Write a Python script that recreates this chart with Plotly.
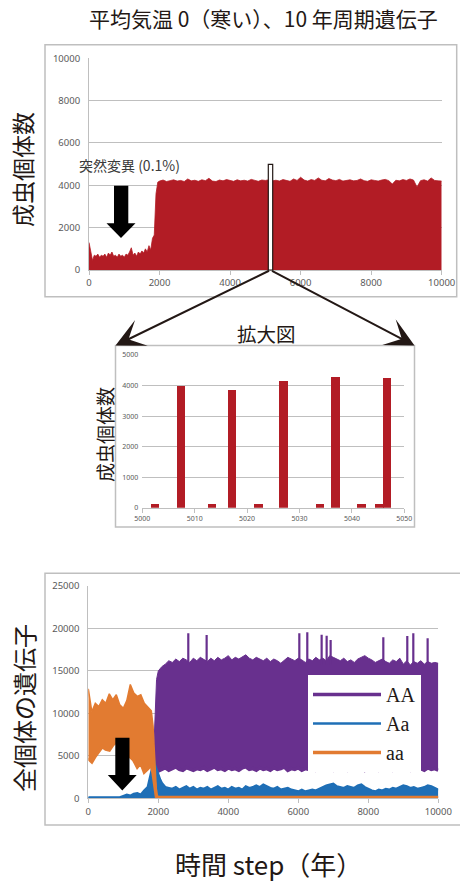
import plotly.graph_objects as go

W, H = 460, 883


def PX(x):
    return x / W


def PY(y):
    return 1 - y / H


# ---------------- data ----------------
# top chart: adult population (upper envelope of the dense 10-year oscillation)
TOP_STEP = list(range(0, 2000, 50)) + list(range(2000, 10001, 100))
TOP_ADULTS = [
    1300, 800, 450, 700, 650, 750, 600, 700, 650, 750,
    600, 800, 700, 850, 650, 700, 600, 750, 650, 700,
    600, 750, 700, 850, 1050, 700, 800, 650, 850, 750,
    900, 800, 1000, 850, 1150, 950, 1500, 1650, 3600, 4150,
    4200,
    4250, 4180, 4220, 4260, 4200, 4230, 4180, 4300, 4210, 4240,
    4190, 4260, 4220, 4330, 4200, 4180, 4250, 4210, 4270, 4230,
    4190, 4260, 4210, 4240, 4200, 4280, 4220, 4190, 4250, 4230,
    4260, 4210, 4240, 4200, 4270, 4220, 4190, 4300, 4230, 4380,
    4250, 4200, 4270, 4230, 4350, 4240, 4210, 4320, 4250, 4220,
    4280, 4200, 4240, 4260, 4210, 4230, 4300, 4220, 4190, 4260,
    4230, 4200, 4250, 4280, 4220, 4060, 4240, 4210, 4270, 4230,
    4300, 4250, 3920, 4220, 4260, 4200, 4350, 4230, 4210, 4200,
]

# zoomed view 5000-5050
ZOOM_STEP = [5002.5, 5007.5, 5013.3, 5017.2, 5022.2, 5027.0, 5034.0, 5036.9, 5041.9, 5045.3, 5046.7]
ZOOM_ADULTS = [110, 3990, 110, 3870, 110, 4140, 110, 4290, 110, 110, 4240]

# bottom chart: genotype counts (envelopes)
AA_STEP = [1850, 1900, 1950] + list(range(2000, 10001, 100))
AA_HIGH = [
    3500, 9000, 14000,
    15000,
    15500, 15800, 16200, 16000, 16400, 16100, 16500, 16300, 16000, 16500,
    16200, 16600, 16300, 16100, 16500, 16200, 16600, 16300, 16500, 16800,
    16300, 16600, 16400, 16700, 16900, 16500, 16300, 16600, 16400, 16200,
    16500, 16100, 16400, 16200, 15900, 16300, 16600, 16400, 16200, 16500,
    16300, 16000, 16400, 16200, 16600, 16300, 16500, 16200, 16800, 16600,
    16400, 16200, 16500, 16100, 16300, 16000, 16400, 16600, 16800, 16500,
    16300, 16000, 16200, 16400, 16100, 15900, 16300, 16100, 16500, 15800,
    16200, 15700, 16100, 15900, 16200, 15800, 16100, 15900, 16000, 15900,
]
AA_LOW = [
    3500, 3600, 3300,
    3200,
    3400, 3600, 3300, 3500, 3700, 3400, 3300, 3600, 3500, 3300,
    3500, 3400, 3600, 3300, 3500, 3700, 3400, 3500, 3300, 3600,
    3400, 3500, 3300, 3600, 3700, 3400, 3500, 3300, 3600, 3400,
    3500, 3300, 3600, 3400, 3500, 3700, 3300, 3500, 3400, 3600,
    3300, 3500, 3400, 3600, 3300, 3500, 3700, 3400, 3500, 3300,
    3600, 3400, 3500, 3300, 3600, 3500, 3400, 3700, 3300, 3500,
    3400, 3600, 3300, 3500, 3400, 3600, 3300, 3500, 3700, 3400,
    3500, 3300, 3600, 3400, 3500, 3300, 3600, 3400, 3500, 3300,
]
AA_SPIKE_STEP = [2857, 3381, 6029, 6257, 6667, 6810, 6924, 8429, 9114, 9286, 9695]
AA_SPIKE_PEAK = [19430, 19230, 19430, 19540, 19270, 19150, 18640, 18960, 19110, 19430, 18840]

Aa_STEP = list(range(0, 1701, 100)) + [1750, 1800, 1850, 1880, 1900, 1950, 2000, 2050] + list(range(2100, 10001, 100))
Aa_HIGH = [
    100, 100, 100, 100, 100, 100, 100, 100, 100, 100,
    250, 400, 300, 500, 600, 400, 900, 1300,
    2200, 3200, 4200, 4500, 4000, 3300, 2900, 2200,
    1800, 1300, 1200, 1100, 1300, 1000, 1200, 1400, 1100, 1300,
    1000, 1200, 1100, 1300, 1000, 1200, 1400, 1100, 1200, 1000,
    1300, 1100, 1200, 1000, 1400, 1200, 1300, 1500, 1300, 1600,
    1400, 1200, 1100, 1300, 1000, 1100, 1200, 1000, 900, 800,
    1000, 800, 900, 1000, 900, 1100, 1300, 1500, 1600, 1700,
    1400, 1300, 1200, 1400, 1300, 1200, 1500, 1600, 1300, 1100,
    900, 800, 1000, 900, 1100, 1000, 1200, 1100, 1300, 1500,
    1400, 1200, 1300, 1100, 1200, 1300, 1500, 1400, 1200, 1000,
]

aa_STEP = list(range(0, 1801, 100)) + [1850, 1900, 1950, 2000, 10000]
aa_HIGH = [
    12900, 10200, 11200, 10800, 11600, 11200, 12300, 11600, 12200, 11000,
    10600, 11500, 13400, 12400, 12000, 12200, 11200, 10800, 10300,
    8500, 3500, 500, 200, 200,
]
aa_LOW = [
    4700, 4300, 5000, 5500, 6100, 5800, 5700, 6300, 6700, 6000,
    5500, 6100, 4900, 4500, 3700, 4200, 3100, 3500, 4000,
    3000, 1500, 100, 0, 0,
]

TOP_TICKS = [0, 2000, 4000, 6000, 8000, 10000]
ZOOM_XTICKS = [5000, 5010, 5020, 5030, 5040, 5050]
ZOOM_YTICKS = [0, 1000, 2000, 3000, 4000, 5000]
GENE_YTICKS = [0, 5000, 10000, 15000, 20000, 25000]

# ---------------- style ----------------
RED = "#B21C25"
PURPLE = "#68308E"
BLUE = "#1F6FB6"
ORANGE = "#E27B31"
GRID = "#BFBFBF"
TICKC = "#595959"
INK = "#231815"
JP = "Noto Sans CJK JP"
NUM = "Noto Sans"

fig = go.Figure()

# top chart
fig.add_trace(go.Scatter(x=TOP_STEP, y=TOP_ADULTS, mode="lines", fill="tozeroy",
                         line=dict(color=RED, width=0.8), fillcolor=RED,
                         showlegend=False, xaxis="x", yaxis="y", hoverinfo="skip"))

# zoom chart
fig.add_trace(go.Bar(x=ZOOM_STEP, y=ZOOM_ADULTS, width=1.6, marker=dict(color=RED, line=dict(width=0)),
                     showlegend=False, xaxis="x2", yaxis="y2"))

# bottom chart: AA
fig.add_trace(go.Scatter(x=AA_STEP, y=AA_LOW, mode="lines", name="AA", legendrank=1,
                         line=dict(color=PURPLE, width=3.5), xaxis="x3", yaxis="y3"))
fig.add_trace(go.Scatter(x=AA_STEP, y=AA_HIGH, mode="lines", fill="tonexty", fillcolor=PURPLE,
                         line=dict(color=PURPLE, width=1), showlegend=False, xaxis="x3", yaxis="y3"))
spx, spy = [], []
for s, p in zip(AA_SPIKE_STEP, AA_SPIKE_PEAK):
    spx += [s, s, None]
    spy += [15800, p, None]
fig.add_trace(go.Scatter(x=spx, y=spy, mode="lines", line=dict(color=PURPLE, width=2.2),
                         showlegend=False, xaxis="x3", yaxis="y3"))
# Aa
fig.add_trace(go.Scatter(x=Aa_STEP, y=Aa_HIGH, mode="lines", name="Aa", legendrank=2,
                         line=dict(color=BLUE, width=2.5), xaxis="x3", yaxis="y3"))
fig.add_trace(go.Scatter(x=Aa_STEP, y=Aa_HIGH, mode="lines", fill="tozeroy", fillcolor=BLUE,
                         line=dict(color=BLUE, width=1), showlegend=False, xaxis="x3", yaxis="y3"))
# aa
fig.add_trace(go.Scatter(x=aa_STEP, y=aa_LOW, mode="lines", name="aa", legendrank=3,
                         line=dict(color=ORANGE, width=3.5), xaxis="x3", yaxis="y3"))
fig.add_trace(go.Scatter(x=aa_STEP, y=aa_HIGH, mode="lines", fill="tonexty", fillcolor=ORANGE,
                         line=dict(color=ORANGE, width=1.5), showlegend=False, xaxis="x3", yaxis="y3"))

tickfont = dict(family=NUM, size=9.5, color=TICKC)
small_tickfont = dict(family=NUM, size=7, color=TICKC)

common_x = dict(showgrid=False, showline=True, linecolor=GRID, linewidth=1, ticks="outside",
                ticklen=4, tickcolor=GRID, tickformat="d", zeroline=False, fixedrange=True,
                automargin=False)
common_y = dict(showgrid=True, gridcolor=GRID, gridwidth=1, showline=True, linecolor=GRID,
                linewidth=1, ticks="", tickformat="d", zeroline=False, ticklabelstandoff=6,
                fixedrange=True, automargin=False)

fig.update_layout(
    width=W, height=H, margin=dict(l=0, r=0, t=0, b=0, pad=0, autoexpand=False),
    paper_bgcolor="white", plot_bgcolor="rgba(0,0,0,0)",
    bargap=0,
    xaxis=dict(domain=[PX(89), PX(441.7)], range=[0, 10000], tickvals=TOP_TICKS,
               tickfont=tickfont, anchor="y", **common_x),
    yaxis=dict(domain=[PY(270), PY(58.3)], range=[0, 10000], tickvals=TOP_TICKS,
               tickfont=tickfont, anchor="x", **common_y),
    xaxis2=dict(domain=[PX(142.3), PX(404.3)], range=[5000, 5050], tickvals=ZOOM_XTICKS,
                tickfont=small_tickfont, anchor="y2", **common_x),
    yaxis2=dict(domain=[PY(507.7), PY(355)], range=[0, 5000], tickvals=ZOOM_YTICKS,
                tickfont=small_tickfont, anchor="x2",
                **{**common_y, "showline": False, "ticklabelstandoff": 3}),
    xaxis3=dict(domain=[PX(88.3), PX(438.3)], range=[0, 10000], tickvals=TOP_TICKS,
                tickfont=tickfont, anchor="y3", **common_x),
    yaxis3=dict(domain=[PY(798.3), PY(586)], range=[0, 25000], tickvals=GENE_YTICKS,
                tickfont=tickfont, anchor="x3", **common_y),
    legend=dict(x=PX(308), y=PY(675), xanchor="left", yanchor="top", traceorder="normal",
                bgcolor="white", borderwidth=0, itemwidth=68,
                font=dict(family="Liberation Serif", size=20, color=INK),
                tracegroupgap=0),
)


def path(points):
    s = "M " + " L ".join(f"{PX(x):.5f},{PY(y):.5f}" for x, y in points) + " Z"
    return s


shapes = [
    # panel frames
    dict(type="rect", xref="paper", yref="paper", x0=PX(45), x1=PX(456.7), y0=PY(296.7), y1=PY(44.7),
         line=dict(color=GRID, width=1.5), layer="below"),
    dict(type="rect", xref="paper", yref="paper", x0=PX(115.5), x1=PX(414.5), y0=PY(527), y1=PY(345.5),
         line=dict(color=GRID, width=1.5), layer="below"),
    dict(type="rect", xref="paper", yref="paper", x0=PX(45), x1=PX(470), y0=PY(825), y1=PY(573.3),
         line=dict(color=GRID, width=1.5), layer="below"),
    # zoom marker
    dict(type="rect", xref="paper", yref="paper", x0=PX(268.3), x1=PX(272.7), y0=PY(270), y1=PY(164.3),
         line=dict(color=INK, width=1.2), fillcolor="white", layer="above"),
    # block arrows
    dict(type="path", xref="paper", yref="paper", fillcolor="black", line=dict(width=0),
         path=path([(114, 185.7), (128.3, 185.7), (128.3, 223.3), (135.5, 223.3), (121, 238),
                    (106.5, 223.3), (114, 223.3)])),
    dict(type="path", xref="paper", yref="paper", fillcolor="black", line=dict(width=0),
         path=path([(115.3, 737.7), (129.5, 737.7), (129.5, 775), (136.7, 775), (122.3, 790.5),
                    (107.8, 775), (115.3, 775)])),
]

annotations = [
    dict(text="平均気温 0（寒い）、10 年周期遺伝子", x=PX(263), y=PY(18), font=dict(family=JP, size=21, color=INK)),
    dict(text="成虫個体数", x=PX(22), y=PY(170), textangle=-90, font=dict(family=JP, size=23, color=INK)),
    dict(text="突然変異 (0.1%)", x=PX(77), y=PY(165), xanchor="left", font=dict(family=JP, size=14, color="#3A3A3A")),
    dict(text="拡大図", x=PX(266.7), y=PY(333), font=dict(family=JP, size=19.5, color=INK)),
    dict(text="成虫個体数", x=PX(104), y=PY(435), textangle=-90, font=dict(family=JP, size=19, color=INK)),
    dict(text="全個体の遺伝子", x=PX(23), y=PY(708), textangle=-90, font=dict(family=JP, size=24, color=INK)),
    dict(text="時間 step（年）", x=PX(268), y=PY(863), font=dict(family=JP, size=26, color=INK)),
    # zoom callout arrows
    dict(text="", x=PX(115.5), y=PY(345.5), ax=155, ay=-75.5, showarrow=True, arrowhead=3,
         arrowsize=2.4, arrowwidth=2, arrowcolor=INK),
    dict(text="", x=PX(414.5), y=PY(345.5), ax=-144, ay=-75.5, showarrow=True, arrowhead=3,
         arrowsize=2.4, arrowwidth=2, arrowcolor=INK),
]
for a in annotations:
    a.setdefault("xref", "paper")
    a.setdefault("yref", "paper")
    a.setdefault("showarrow", False)
    a.setdefault("xanchor", "center")
    a.setdefault("yanchor", "middle")

fig.update_layout(shapes=shapes, annotations=annotations)

fig.write_html("out.html")
